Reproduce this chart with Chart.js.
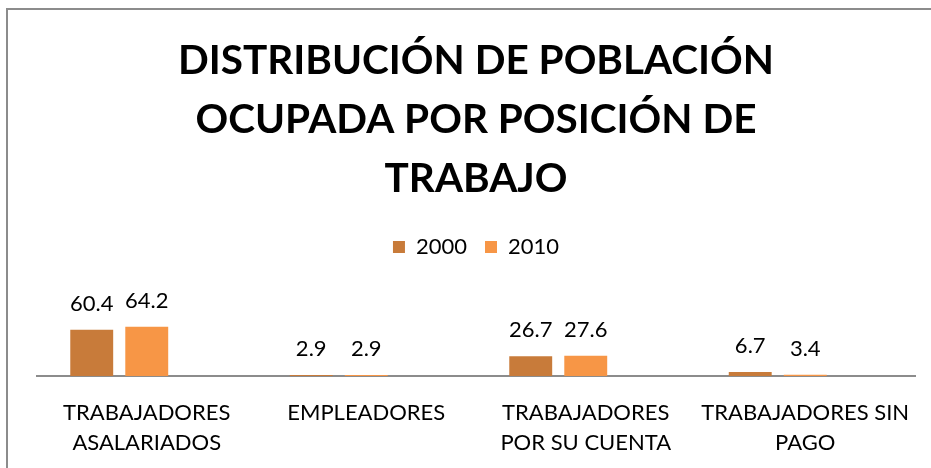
<!DOCTYPE html>
<html>
<head>
<meta charset="utf-8">
<script src="https://cdn.jsdelivr.net/npm/chart.js@4/dist/chart.umd.min.js"></script>
<style>
  html, body { margin:0; padding:0; background:#fff; }
  #wrap { position:relative; width:931px; height:468px; }
  #frame { position:absolute; left:6px; top:8px; right:0; bottom:0; border-left:2px solid #8c8c8c; border-top:2px solid #8c8c8c; pointer-events:none; }
</style>
</head>
<body>
<div id="wrap">
  <canvas id="chart" width="931" height="468"></canvas>
  <div id="frame"></div>
</div>
<script>
const CATEGORIES = [
  ["TRABAJADORES", "ASALARIADOS"],
  "EMPLEADORES",
  ["TRABAJADORES", "POR SU CUENTA"],
  ["TRABAJADORES SIN", "PAGO"]
];
const VALUES_2000 = [60.4, 2.9, 26.7, 6.7];
const VALUES_2010 = [64.2, 2.9, 27.6, 3.4];
const EMPTY_SERIES = [null, null, null, null];

const FONT = "Lato";

// value labels over the bars
const valueLabels = {
  id: "valueLabels",
  afterDatasetsDraw(chart) {
    const ctx = chart.ctx;
    ctx.save();
    ctx.font = `22px ${FONT}`;
    ctx.fillStyle = "#000";
    ctx.textAlign = "center";
    ctx.textBaseline = "middle";
    chart.data.datasets.forEach((ds, i) => {
      if (ds.spacer) return;
      chart.getDatasetMeta(i).data.forEach((bar, j) => {
        const v = ds.data[j];
        if (v == null) return;
        ctx.fillText(v.toFixed(1), bar.x, bar.y - 26);
      });
    });
    ctx.restore();
  }
};

new Chart(document.getElementById("chart"), {
  type: "bar",
  data: {
    labels: CATEGORIES,
    datasets: [
      { label: "2000", data: VALUES_2000, backgroundColor: "#C87B3A", borderWidth: 0 },
      { label: "2010", data: VALUES_2010, backgroundColor: "#F79646", borderWidth: 0 },
      { label: "", data: EMPTY_SERIES, backgroundColor: "rgba(0,0,0,0)", spacer: true }
    ]
  },
  options: {
    responsive: false,
    animation: false,
    categoryPercentage: 0.752,
    barPercentage: 0.78,
    layout: { padding: { top: 10, left: 37, right: 16, bottom: 0 } },
    plugins: {
      title: {
        display: true,
        text: ["DISTRIBUCIÓN DE POBLACIÓN", "OCUPADA POR POSICIÓN DE", "TRABAJO"],
        color: "#000",
        font: { family: FONT, size: 40.5, weight: "bold", lineHeight: "59px" },
        padding: { top: 21, bottom: 10 }
      },
      legend: {
        position: "top",
        labels: {
          color: "#000",
          font: { family: FONT, size: 22 },
          boxWidth: 12,
          boxHeight: 12,
          padding: 18,
          filter: (item, data) => !data.datasets[item.datasetIndex].spacer
        }
      },
      tooltip: { enabled: false }
    },
    scales: {
      x: {
        grid: { display: false },
        border: { display: true, color: "#8c8c8c", width: 2 },
        ticks: {
          color: "#000",
          font: { family: FONT, size: 22, lineHeight: "30px" },
          padding: 14,
          maxRotation: 0,
          autoSkip: false
        },
        afterFit(scale) { scale.height = 92; }
      },
      y: {
        display: false,
        min: 1.75,
        max: 139
      }
    }
  },
  plugins: [valueLabels]
});
</script>
</body>
</html>
